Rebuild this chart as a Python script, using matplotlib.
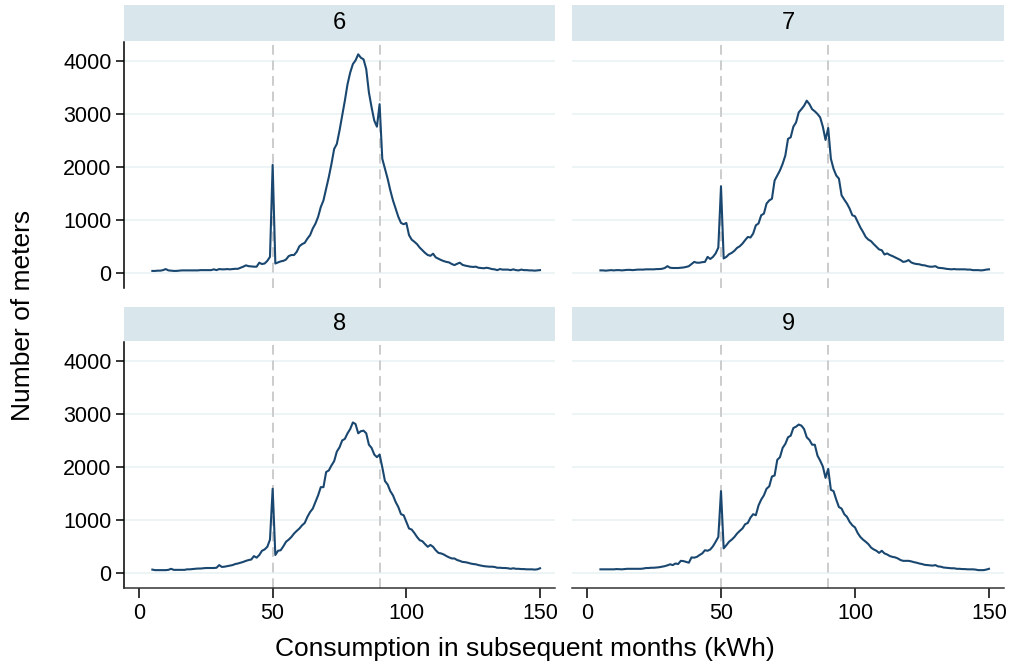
import numpy as np
import matplotlib.pyplot as plt

plt.rcParams['font.family'] = ['Liberation Sans', 'DejaVu Sans']

kwh = np.arange(5, 151)

m6 = [40, 40, 45, 45, 55, 75, 50, 45, 40, 40,
      45, 50, 50, 50, 50, 50, 50, 50, 55, 55,
      55, 55, 55, 70, 55, 75, 70, 70, 75, 70,
      75, 80, 80, 100, 120, 145, 130, 125, 120, 120,
      195, 170, 180, 230, 305, 2040, 180, 200, 220, 230,
      255, 320, 340, 340, 400, 505, 545, 570, 650, 715,
      840, 930, 1060, 1245, 1370, 1590, 1810, 2060, 2340, 2435,
      2685, 2965, 3250, 3560, 3780, 3940, 4010, 4125, 4060, 4030,
      3845, 3405, 3125, 2875, 2760, 3185, 2155, 1965, 1780, 1560,
      1370, 1215, 1060, 945, 920, 945, 715, 630, 590, 545,
      480, 430, 380, 340, 325, 365, 295, 270, 245, 225,
      210, 200, 170, 150, 175, 195, 155, 140, 130, 120,
      115, 120, 100, 95, 90, 100, 90, 75, 70, 55,
      75, 65, 65, 65, 55, 70, 55, 50, 65, 55,
      55, 50, 50, 45, 50, 55]

m7 = [50, 50, 45, 50, 55, 50, 55, 55, 50, 55,
      60, 60, 55, 60, 65, 65, 65, 70, 70, 70,
      70, 75, 75, 80, 95, 130, 100, 95, 95, 95,
      100, 105, 115, 130, 170, 210, 195, 195, 205, 210,
      305, 265, 305, 370, 480, 1635, 275, 305, 355, 380,
      420, 475, 505, 555, 620, 680, 670, 745, 900, 935,
      1090, 1120, 1310, 1370, 1400, 1745, 1840, 1935, 2060, 2215,
      2530, 2560, 2760, 2840, 3030, 3090, 3155, 3250, 3185, 3090,
      3050, 3000, 2935, 2760, 2510, 2735, 2155, 1965, 1840, 1780,
      1465, 1385, 1310, 1215, 1090, 1070, 965, 860, 775, 680,
      630, 600, 545, 495, 445, 430, 350, 370, 340, 320,
      295, 270, 245, 210, 220, 245, 200, 180, 170, 165,
      150, 145, 130, 120, 120, 130, 100, 95, 90, 80,
      75, 70, 75, 70, 70, 70, 70, 65, 65, 55,
      55, 55, 50, 55, 65, 70]

m8 = [65, 55, 55, 55, 55, 55, 60, 80, 60, 60,
      60, 60, 60, 70, 70, 75, 80, 85, 85, 90,
      95, 95, 95, 95, 100, 150, 115, 120, 130, 140,
      150, 170, 180, 195, 210, 230, 245, 255, 320, 290,
      340, 420, 445, 495, 630, 1590, 340, 420, 430, 505,
      590, 630, 680, 745, 795, 840, 900, 945, 1060, 1150,
      1215, 1340, 1465, 1620, 1620, 1905, 1935, 2030, 2110, 2290,
      2370, 2500, 2530, 2635, 2715, 2840, 2810, 2635, 2675, 2685,
      2635, 2420, 2360, 2235, 2185, 2235, 1995, 1735, 1670, 1545,
      1465, 1340, 1245, 1110, 1090, 965, 840, 820, 755, 680,
      620, 600, 545, 495, 530, 495, 430, 380, 370, 350,
      320, 295, 275, 275, 245, 230, 210, 205, 195, 180,
      170, 165, 150, 140, 130, 125, 120, 120, 115, 100,
      100, 95, 95, 90, 80, 90, 80, 80, 75, 75,
      70, 70, 70, 65, 70, 90]

m9 = [70, 70, 70, 70, 70, 70, 75, 72, 70, 75,
      80, 80, 80, 80, 80, 80, 85, 95, 95, 100,
      100, 105, 110, 120, 130, 145, 165, 150, 180, 170,
      230, 225, 210, 195, 295, 290, 305, 340, 370, 430,
      420, 445, 505, 590, 680, 1545, 465, 525, 590, 630,
      680, 745, 795, 840, 920, 945, 1045, 1110, 1090, 1275,
      1385, 1465, 1590, 1635, 1820, 1840, 2135, 2185, 2360, 2435,
      2560, 2590, 2735, 2760, 2800, 2780, 2715, 2560, 2510, 2420,
      2420, 2215, 2120, 2010, 1795, 1965, 1570, 1545, 1385, 1245,
      1215, 1110, 1060, 965, 900, 860, 755, 680, 630, 590,
      545, 480, 445, 420, 380, 420, 370, 350, 320, 305,
      295, 275, 245, 230, 230, 230, 220, 205, 195, 180,
      170, 155, 150, 145, 140, 150, 125, 120, 105, 100,
      95, 90, 90, 80, 80, 75, 75, 70, 70, 70,
      65, 55, 55, 55, 65, 80]

panels = ['6', '7', '8', '9']
series = [m6, m7, m8, m9]
cutoffs = [50, 90]
yticks = [0, 1000, 2000, 3000, 4000]
xticks = [0, 50, 100, 150]

W, H = 1011, 666
fig = plt.figure(figsize=(W / 100, H / 100), dpi=100)

line_col = '#1a476f'
grid_col = '#eaf2f3'
strip_col = '#d9e6eb'

cols = [(124, 555), (572, 1004)]
rows = [(5, 41, 288), (307, 341, 588)]  # strip top, axes top, axes bottom

def box(x0, x1, ytop, ybot):
    return [x0 / W, 1 - ybot / H, (x1 - x0) / W, (ybot - ytop) / H]

for i, (lab, vals) in enumerate(zip(panels, series)):
    r, c = divmod(i, 2)
    x0, x1 = cols[c]
    st, at, ab = rows[r]

    sax = fig.add_axes(box(x0, x1, st, at))
    sax.set_facecolor(strip_col)
    sax.set_xticks([])
    sax.set_yticks([])
    for s in sax.spines.values():
        s.set_visible(False)
    sax.text(0.5, 0.5, lab, ha='center', va='center', fontsize=17,
             transform=sax.transAxes)

    ax = fig.add_axes(box(x0, x1, at + 1, ab))
    ax.set_xlim(-5.6, 155.6)
    ax.set_ylim(-282, 4357)
    for y in yticks:
        ax.axhline(y, color=grid_col, lw=1.2, zorder=0)
    for xc in cutoffs:
        ax.axvline(xc, color='#cccccc', lw=1.4, dashes=(5, 3), zorder=1)
    ax.plot(kwh, vals, color=line_col, lw=1.5, zorder=3)

    for s in ['top', 'right']:
        ax.spines[s].set_visible(False)
    ax.spines['left'].set_linewidth(1.1)
    ax.spines['bottom'].set_linewidth(1.1)
    ax.spines['bottom'].set_color('#333333')

    ax.set_yticks(yticks)
    ax.set_xticks(xticks)
    ax.tick_params(axis='y', length=6, width=1.1, labelsize=15.5, pad=3)
    ax.tick_params(axis='x', length=7, width=1.1, labelsize=15.5, pad=4)

    if c == 1:
        ax.spines['left'].set_visible(False)
        ax.tick_params(axis='y', left=False, labelleft=False)
    if r == 0:
        ax.spines['bottom'].set_visible(False)
        ax.tick_params(axis='x', bottom=False, labelbottom=False)

fig.text(23 / W, 1 - 315 / H, 'Number of meters', rotation=90,
         ha='center', va='center', fontsize=19)
fig.text(525 / W, 1 - 649 / H, 'Consumption in subsequent months (kWh)',
         ha='center', va='center', fontsize=19)

fig.savefig('out.png', dpi=100)
